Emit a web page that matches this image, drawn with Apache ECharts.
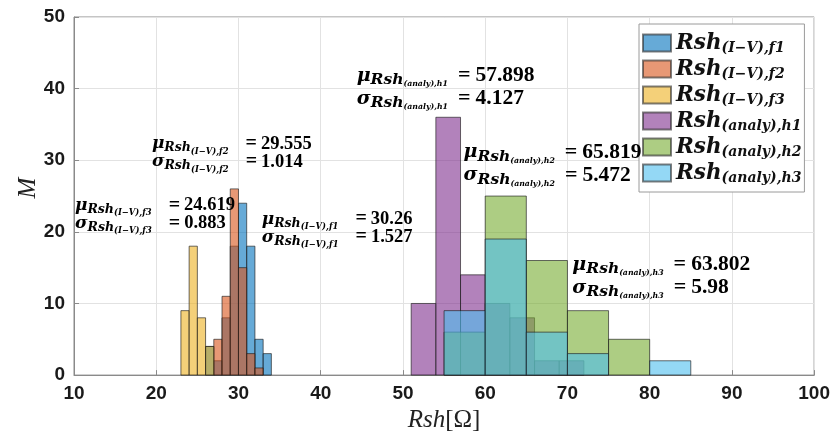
<!DOCTYPE html>
<html><head><meta charset="utf-8">
<script src="https://cdn.jsdelivr.net/npm/echarts@6/dist/echarts.min.js"></script>
<style>html,body{margin:0;padding:0;background:#fff}#c{width:833px;height:438px}</style>
</head><body><div id="c"></div>
<script>
// ---- data ----
const seriesSubs = ['(I\u2212V),f1', '(I\u2212V),f2', '(I\u2212V),f3', '(analy),h1', '(analy),h2', '(analy),h3'];
const f1Edges = [26, 27, 28, 29, 30, 31, 32, 33, 34];
const f1Counts = [4, 2, 8, 18, 24, 18, 5, 3];
const f2Edges = [27, 28, 29, 30, 31, 32, 33];
const f2Counts = [5, 11, 26, 15, 3, 1];
const f3Edges = [23, 24, 25, 26, 27];
const f3Counts = [9, 18, 8, 4];
const h1Edges = [51, 54, 57, 60, 63, 66, 69, 72];
const h1Counts = [10, 36, 14, 10, 8, 2, 2];
const h2Edges = [55, 60, 65, 70, 75, 80];
const h2Counts = [6, 25, 16, 9, 5];
const h3Edges = [55, 60, 65, 70, 75, 80, 85];
const h3Counts = [9, 19, 6, 3, 0, 2];
const meanLabels = ['30.26', '29.555', '24.619', '57.898', '65.819', '63.802'];
const sigmaLabels = ['1.527', '1.014', '0.883', '4.127', '5.472', '5.98'];
const xTicks = [10, 20, 30, 40, 50, 60, 70, 80, 90, 100];
const yTicks = [0, 10, 20, 30, 40, 50];

// ---- layout / style config ----
const allEdges = [f1Edges, f2Edges, f3Edges, h1Edges, h2Edges, h3Edges];
const allCounts = [f1Counts, f2Counts, f3Counts, h1Counts, h2Counts, h3Counts];
const baseColors = [[0,114,189],[217,83,25],[237,177,32],[126,47,142],[119,172,48],[77,190,238]];
const annoAnchors = [[32.83, 20.5], [19.47, 31.0], [10.12, 22.4], [44.37, 40.2], [57.37, 29.5], [70.6, 13.8]];
const edgeColor = 'rgba(30,30,30,0.65)';
const serif = '"Liberation Serif", "DejaVu Serif", serif';
const wserif = '"DejaVu Serif", serif';

function rgba(c, a) { return 'rgba(' + c[0] + ',' + c[1] + ',' + c[2] + ',' + a + ')'; }
const names = seriesSubs.map(s => 'Rsh_' + s);

const histSeries = allEdges.map((edges, i) => {
  const data = [];
  allCounts[i].forEach((c, k) => { if (c > 0) data.push([edges[k], edges[k + 1], c]); });
  const fill = rgba(baseColors[i], 0.6);
  return {
    type: 'custom', name: names[i],
    itemStyle: { color: fill, borderColor: 'rgba(40,40,40,0.6)', borderWidth: 1 },
    encode: { x: [0, 1], y: 2 },
    data: data,
    renderItem: function (params, api) {
      const p0 = api.coord([api.value(0), api.value(2)]);
      const p1 = api.coord([api.value(1), 0]);
      return { type: 'rect', shape: { x: p0[0], y: p0[1], width: p1[0] - p0[0], height: p1[1] - p0[1] },
               style: { fill: fill, stroke: edgeColor, lineWidth: 1 } };
    }
  };
});

function richFor(big) {
  const lh = big ? 23 : 18;
  return {
    g: { fontFamily: wserif, fontStyle: 'italic', fontWeight: 'bold', fontSize: big ? 19 : 17, color: '#111', lineHeight: lh },
    s: { fontFamily: wserif, fontStyle: 'italic', fontWeight: 'bold', fontSize: big ? 15.5 : 12.5, color: '#111', lineHeight: lh, padding: [big ? 9 : 8, 0, 0, 0] },
    ss: { fontFamily: wserif, fontStyle: 'italic', fontWeight: 'bold', fontSize: big ? 7.8 : 8.4, color: '#111', lineHeight: lh, padding: [big ? 17 : 15, 0, 0, 0] },
    e: { fontFamily: serif, fontWeight: 'bold', fontSize: big ? 22 : 20, color: '#111', lineHeight: lh, padding: [0, big ? 5 : 4, 0, big ? 10 : 17] },
    v: { fontFamily: serif, fontWeight: 'bold', fontSize: big ? 21.5 : 18.5, color: '#111', lineHeight: lh }
  };
}

const annoSeries = {
  type: 'custom', name: 'anno', silent: true, z: 10,
  encode: { x: 0, y: 1 },
  data: annoAnchors.map((a, i) => [a[0], a[1], i]),
  renderItem: function (params, api) {
    const i = api.value(2);
    const p = api.coord([api.value(0), api.value(1)]);
    const sub = seriesSubs[i];
    const txt = '{g|\u03bc}{s|Rsh}{ss|' + sub + '}{e|=}{v|' + meanLabels[i] + '}\n' +
                '{g|\u03c3}{s|Rsh}{ss|' + sub + '}{e|=}{v|' + sigmaLabels[i] + '}';
    return { type: 'text', x: p[0], y: p[1],
             style: { text: txt, rich: richFor(i >= 3), align: 'left', verticalAlign: 'middle' } };
  }
};

const chart = echarts.init(document.getElementById('c'), null, { renderer: 'canvas' });
chart.setOption({
  animation: false,
  backgroundColor: '#fff',
  grid: { left: 74, right: 18, top: 17, bottom: 61, show: true, borderColor: '#8a8a8a', borderWidth: 1 },
  xAxis: {
    type: 'value', min: xTicks[0], max: xTicks[xTicks.length - 1], interval: 10,
    name: '{i|Rsh}{u|[\u03a9]}', nameLocation: 'middle', nameGap: 31,
    nameTextStyle: { rich: {
      i: { fontFamily: serif, fontStyle: 'italic', fontSize: 25, color: '#222' },
      u: { fontFamily: serif, fontSize: 25, color: '#222' } } },
    axisLine: { show: true, lineStyle: { color: '#8a8a8a' } },
    axisTick: { show: true, inside: true, length: 5, lineStyle: { color: '#8a8a8a' } },
    axisLabel: { fontFamily: '"Liberation Sans", Arial, sans-serif', fontWeight: 'bold', fontSize: 19, color: '#1a1a1a', margin: 9 },
    splitLine: { show: true, lineStyle: { color: '#e2e2e2', width: 1 } }
  },
  yAxis: {
    type: 'value', min: yTicks[0], max: yTicks[yTicks.length - 1], interval: 10,
    name: 'M', nameLocation: 'middle', nameGap: 33, nameRotate: 90, nameMoveOverlap: false,
    nameTextStyle: { fontFamily: serif, fontStyle: 'italic', fontSize: 25, color: '#222', padding: [0, 0, 0, 16] },
    axisLine: { show: true, lineStyle: { color: '#8a8a8a' } },
    axisTick: { show: true, inside: true, length: 5, lineStyle: { color: '#8a8a8a' } },
    axisLabel: { fontFamily: '"Liberation Sans", Arial, sans-serif', fontWeight: 'bold', fontSize: 19, color: '#1a1a1a', margin: 9 },
    splitLine: { show: true, lineStyle: { color: '#e2e2e2', width: 1 } }
  },
  legend: {
    data: names, orient: 'vertical', left: 639, top: 24,
    itemWidth: 28, itemHeight: 17, itemGap: 2,
    padding: [7, 3, 7, 3], backgroundColor: '#fff', borderColor: '#9a9a9a', borderWidth: 1,
    icon: 'rect', selectedMode: false,
    formatter: function (name) { return '{r|Rsh}{s|' + name.slice(4) + '}'; },
    textStyle: {
      rich: {
        r: { fontFamily: wserif, fontStyle: 'italic', fontWeight: 'bold', fontSize: 21.5, color: '#111', lineHeight: 18 },
        s: { fontFamily: wserif, fontStyle: 'italic', fontWeight: 'bold', fontSize: 14, color: '#111', lineHeight: 18, padding: [10, 0, 0, 0] }
      }
    }
  },
  series: histSeries.concat([annoSeries])
});
</script></body></html>
